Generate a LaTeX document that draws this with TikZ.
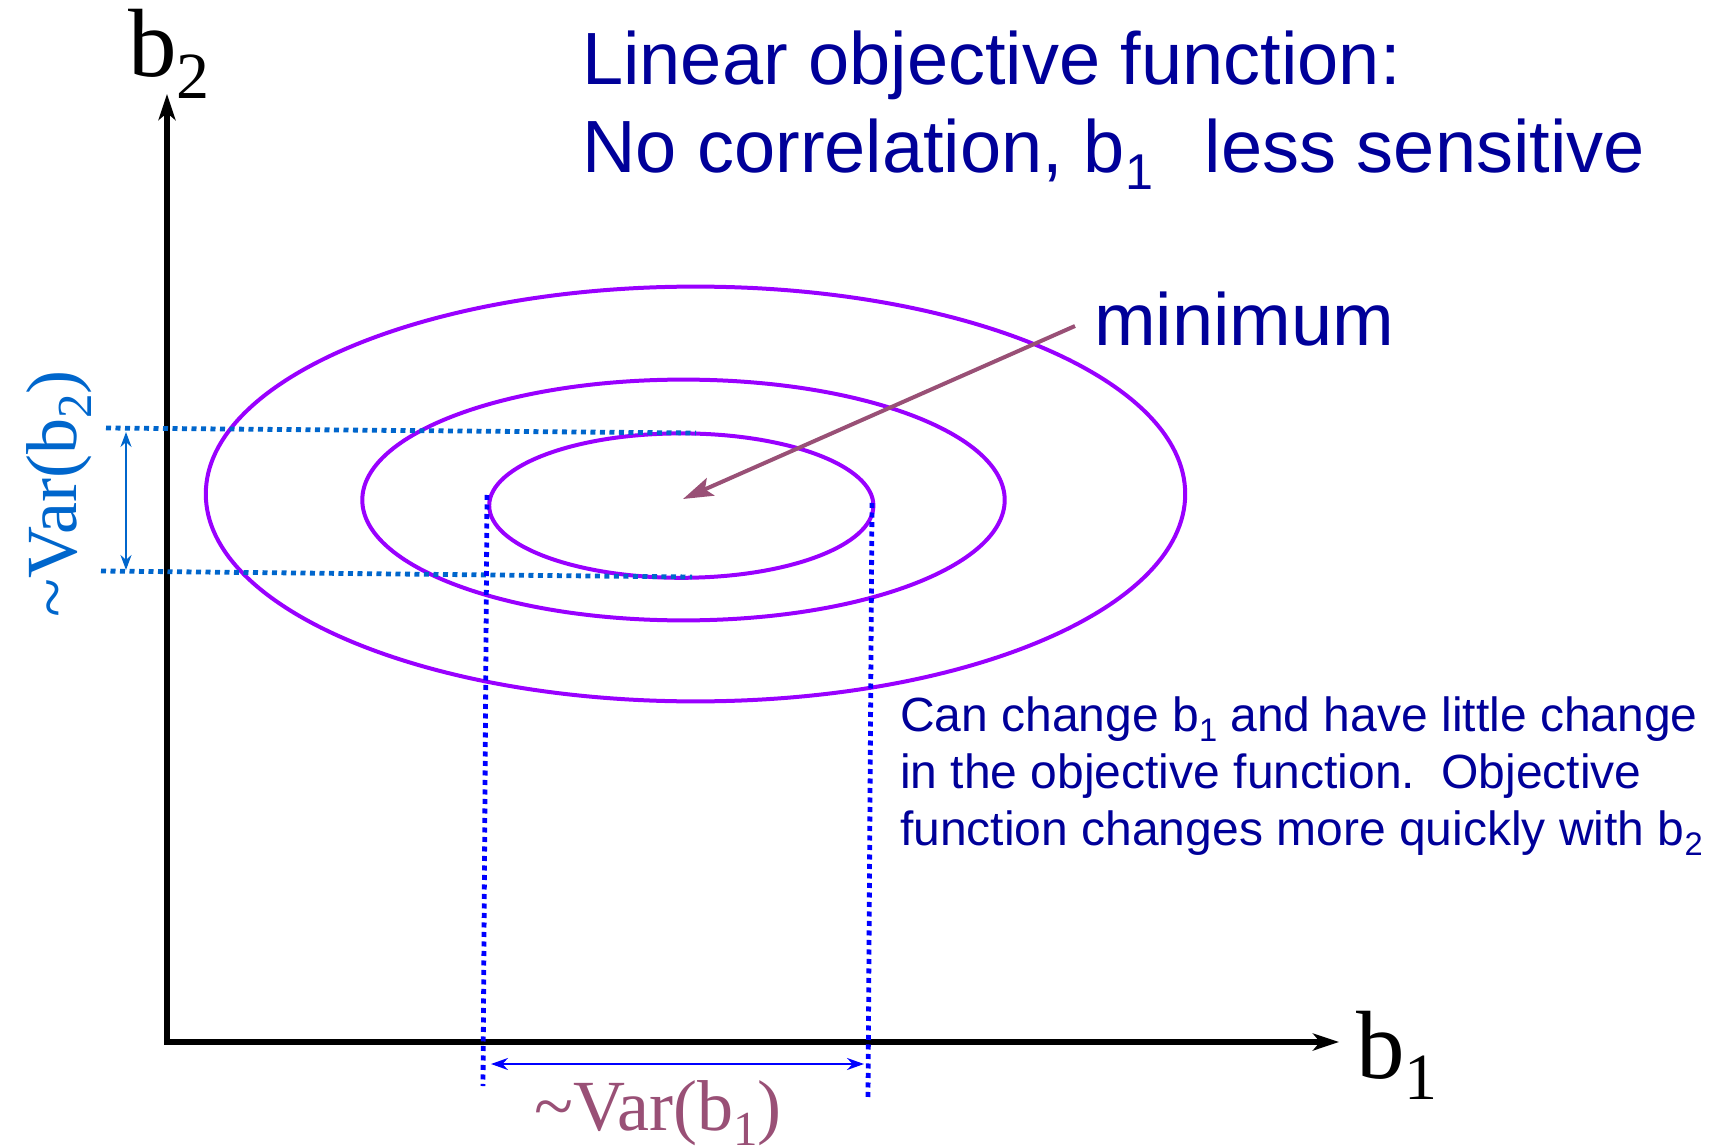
\documentclass[tikz,border=0pt]{standalone}
\usepackage{fontspec}
\setmainfont{Liberation Serif}
\newfontfamily\arialf{Liberation Sans}
\usetikzlibrary{arrows.meta}
\definecolor{navy}{RGB}{0,0,153}
\definecolor{violetline}{RGB}{153,0,255}
\definecolor{mauve}{RGB}{153,80,118}
\definecolor{midblue}{RGB}{0,102,204}
\definecolor{pureblue}{RGB}{0,0,255}
\newcommand{\lowsub}[1]{\raisebox{-0.22em}{\scalebox{0.68}{#1}}}
\begin{document}
\begin{tikzpicture}[x=1pt,y=-1pt,
  axisline/.style={line width=5.5pt,-{Stealth[length=26pt,width=17pt,inset=7pt]}},
  contour/.style={draw=violetline,line width=4pt},
  hdots/.style={draw=midblue,line width=4.8pt,dash pattern=on 5pt off 4.5pt},
  vdots/.style={draw=pureblue,line width=4.8pt,dash pattern=on 5pt off 4.5pt},
  txt/.style={inner sep=0pt,anchor=base west},
  sanstxt/.style={txt,font=\arialf\fontsize{74}{80}\selectfont,text=navy},
  notetxt/.style={txt,font=\arialf\fontsize{48}{52}\selectfont,text=navy},
  axlabel/.style={txt,font=\fontsize{97}{100}\selectfont},
  varlabel/.style={txt,font=\fontsize{72}{76}\selectfont}
]
\useasboundingbox (0,0) rectangle (1716,1147);

% axes
\coordinate (O) at (167,1042);
\coordinate (ytip) at (167,94);
\coordinate (xtip) at (1339,1042);
\draw[axisline] (O) -- (ytip);
\draw[axisline] ([xshift=-2.75pt]O) -- (xtip);
\node[axlabel] (lb2) at (128,77) {b\lowsub{2}};
\node[axlabel] (lb1) at (1356,1078) {b\lowsub{1}};

% contours
\coordinate (ctr) at (683,499);
\draw[contour] (695.5,494) ellipse [x radius=489.7, y radius=207.4];
\draw[contour] (683.5,500) ellipse [x radius=321.2, y radius=120.4];
\draw[contour] (681.3,505.6) ellipse [x radius=192.1, y radius=72.2];

% Var(b2) projections
\coordinate (h1a) at (106,428);
\coordinate (h1b) at (696,433);
\coordinate (h2a) at (101,571);
\coordinate (h2b) at (692,577);
\draw[hdots] (h1a) -- (h1b);
\draw[hdots] (h2a) -- (h2b);
\coordinate (va) at (126,432);
\coordinate (vb) at (126,570);
\draw[midblue,line width=2.2pt,{Stealth[length=15pt,width=11pt]}-{Stealth[length=15pt,width=11pt]}] (va) -- (vb);
\node[varlabel,text=midblue,rotate=90] (varb2) at (76,618) {\textasciitilde Var(b\lowsub{2})};

% Var(b1) projections
\coordinate (v1a) at (487,495);
\coordinate (v1b) at (483,1086);
\coordinate (v2a) at (872,503);
\coordinate (v2b) at (868,1097);
\draw[vdots] (v1a) -- (v1b);
\draw[vdots] (v2a) -- (v2b);
\coordinate (ha) at (491,1064);
\coordinate (hb) at (864,1064);
\draw[pureblue,line width=2.2pt,{Stealth[length=17pt,width=12pt]}-{Stealth[length=17pt,width=12pt]}] (ha) -- (hb);
\node[varlabel,text=mauve] (varb1) at (534,1130) {\textasciitilde Var(b\lowsub{1})};

% titles
\node[sanstxt] (title1) at (582,85) {Linear objective function:};
\node[sanstxt] (title2) at (582,173) {No correlation, b\lowsub{1}\hspace{0.7em}less sensitive};

% minimum
\node[sanstxt] (minlab) at (1094,346) {minimum};
\coordinate (mstart) at (1075,326);
\draw[mauve,line width=4pt,-{Stealth[length=30pt,width=19pt,inset=6pt]}] (mstart) -- (ctr);

% note
\node[notetxt] (note1) at (900,731) {Can change b\lowsub{1} and have little change};
\node[notetxt] (note2) at (900,788) {in the objective function.\hspace{0.55em}Objective};
\node[notetxt] (note3) at (900,845) {function changes more quickly with b\lowsub{2}};
\end{tikzpicture}
\end{document}
